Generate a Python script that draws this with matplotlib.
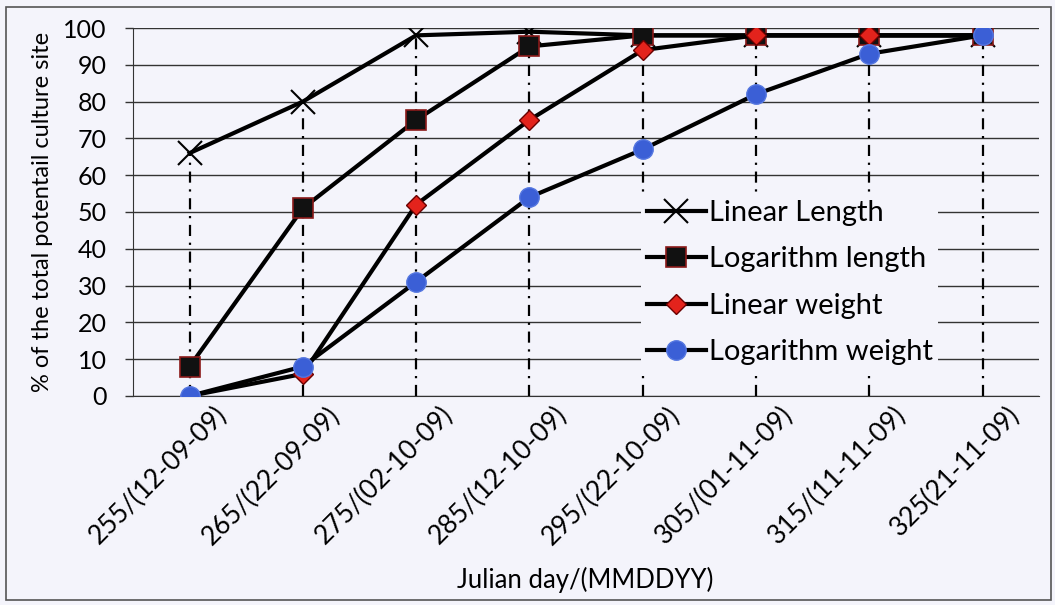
import numpy as np
import matplotlib
matplotlib.use("Agg")
import matplotlib.pyplot as plt

# --- data ---
days = ["255/(12-09-09)", "265/(22-09-09)", "275/(02-10-09)", "285/(12-10-09)",
        "295/(22-10-09)", "305/(01-11-09)", "315/(11-11-09)", "325(21-11-09)"]
linear_length = [66, 80, 98, 99, 98, 98, 98, 98]
log_length = [8, 51, 75, 95, 98, 98, 98, 98]
linear_weight = [0, 6, 52, 75, 94, 98, 98, 98]
log_weight = [0, 8, 31, 54, 67, 82, 93, 98]

plt.rcParams['font.family'] = ['Lato', 'DejaVu Sans']
bg = '#f4f4fb'

fig = plt.figure(figsize=(10.55, 6.05), dpi=100, facecolor=bg)
ax = fig.add_axes([0.126, 0.3455, 0.859, 0.6082])
ax.set_facecolor(bg)

x = np.arange(len(days))

# drop lines from highest point to axis
top = np.max([linear_length, log_length, linear_weight, log_weight], axis=0)
ax.vlines(x, 0, top, colors='black', linestyles=(0, (5, 3, 1, 3)), linewidth=1.6, zorder=2)

ax.plot(x, linear_length, color='black', lw=3, marker='x', ms=17, mew=1.5,
        mec='black', label='Linear Length', zorder=3)
ax.plot(x, log_length, color='black', lw=3, marker='s', ms=14, mfc='#111111',
        mec='#8b1a1a', mew=1.2, label='Logarithm length', zorder=4)
ax.plot(x, linear_weight, color='black', lw=3, marker='D', ms=10, mfc='#e3231c',
        mec='#6a0000', mew=1.0, label='Linear weight', zorder=5)
ax.plot(x, log_weight, color='black', lw=3, marker='o', ms=14, mfc='#3b5fd6',
        mec='#5577e0', mew=1.0, label='Logarithm weight', zorder=6)

ax.set_xlim(-0.5, len(days) - 0.5)
ax.set_ylim(0, 100)
ax.set_yticks(range(0, 101, 10))
ax.yaxis.grid(True, color='#333333', linewidth=1)
ax.set_axisbelow(True)

# rotated category labels, Excel style (end of text sits right of the category)
ax.set_xticks(x, labels=[''] * len(days))
for xi, lab in zip(x, days):
    ax.annotate(lab, xy=(xi, 0), xycoords=('data', 'axes fraction'),
                xytext=(33, -15), textcoords='offset pixels', rotation=45,
                ha='right', va='center', rotation_mode='anchor', fontsize=19)

ax.tick_params(axis='y', labelsize=18, length=6, width=1, color='#333333', pad=13)
ax.tick_params(axis='x', length=0)

for s in ['top', 'right']:
    ax.spines[s].set_visible(False)
ax.spines['left'].set_color('#333333')
ax.spines['bottom'].set_color('#333333')

ax.set_ylabel('% of the total potentail culture site', fontsize=17, labelpad=7)
ax.set_xlabel('Julian day/(MMDDYY)', fontsize=18.5)
ax.xaxis.set_label_coords(0.499, -0.465)

leg = ax.legend(loc='upper left', bbox_to_anchor=(0.545, 0.588), fontsize=21,
                frameon=True, facecolor=bg, edgecolor='none', framealpha=1,
                handlelength=2.0, handletextpad=0.1, labelspacing=0.7,
                borderpad=0.2, fancybox=False)

# outer border of the chart
fig.patches.append(plt.Rectangle((0.006, 0.008), 0.99, 0.98, transform=fig.transFigure,
                                 fill=False, edgecolor='#555555', linewidth=1.2))

fig.savefig('out.png', dpi=100, facecolor=bg)
